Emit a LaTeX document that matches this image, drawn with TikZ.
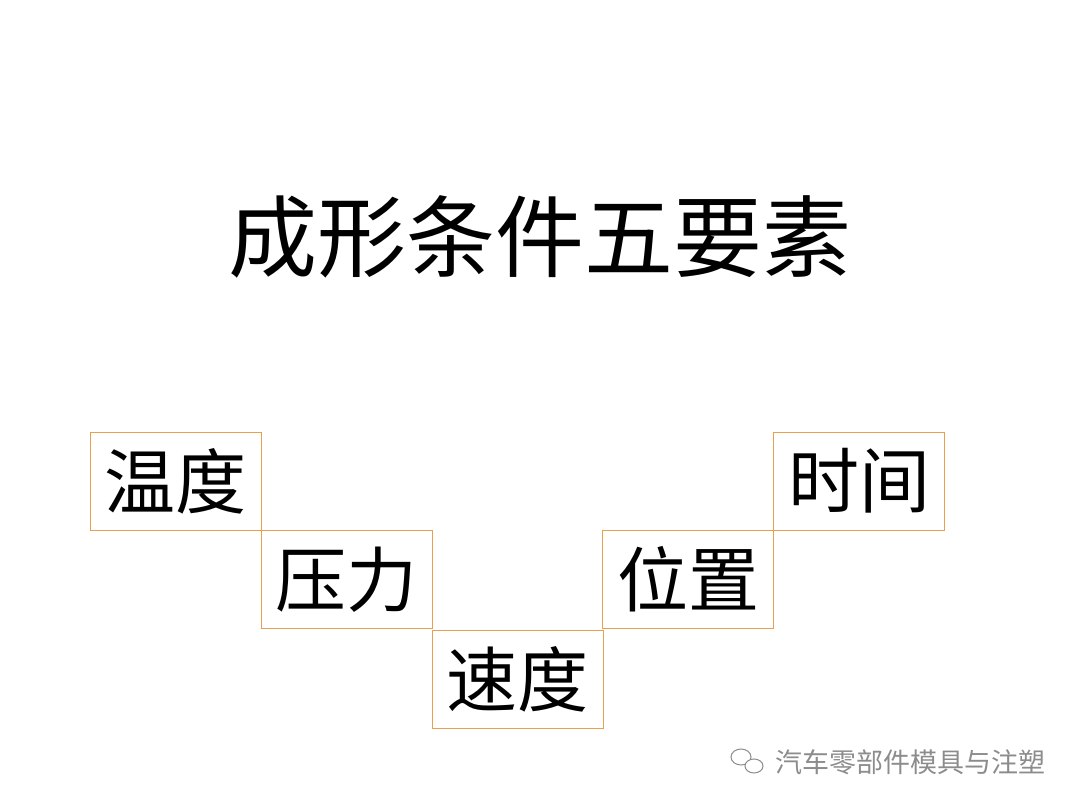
\documentclass[tikz,border=0pt]{standalone}
\usepackage{fontspec}
\newfontfamily\cjk{Noto Sans CJK SC}
\definecolor{boxc}{RGB}{230,160,80}
\tikzset{cell/.style={draw=boxc,line width=0.8pt,minimum width=171pt,minimum height=98pt,inner sep=0pt,font=\cjk\fontsize{71}{71}\selectfont}}
\begin{document}
\begin{tikzpicture}[x=1pt,y=-1pt]
\useasboundingbox (0,0) rectangle (1080,810);
\node[font=\cjk\fontsize{89}{89}\selectfont] (title) at (540,237) {成形条件五要素};
\node[cell] (a) at (175.5,481) {温度};
\node[cell] (b) at (346.5,579.5) {压力};
\node[cell] (c) at (517.5,679) {速度};
\node[cell] (d) at (688,579.5) {位置};
\node[cell] (e) at (859,481) {时间};
\node[font=\cjk\fontsize{27}{27}\selectfont,text=gray!90] (wm) at (910,762) {汽车零部件模具与注塑};
\draw[gray!90,line width=1pt] (741,757) circle[x radius=10,y radius=8];
\draw[gray!90,line width=1pt,fill=white] (754,766) circle[x radius=9,y radius=7];
\end{tikzpicture}
\end{document}
